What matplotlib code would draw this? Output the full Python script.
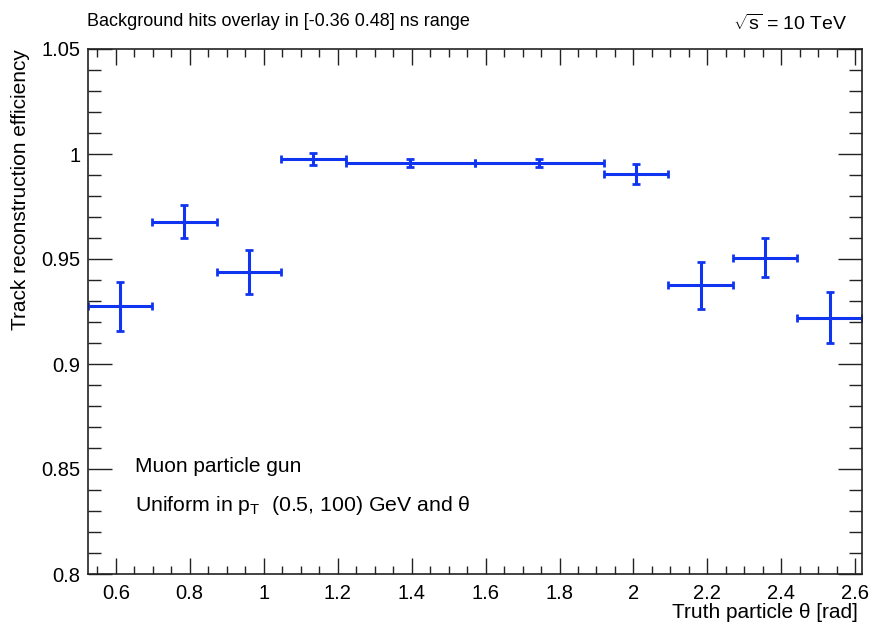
import numpy as np
import matplotlib
matplotlib.use("Agg")
import matplotlib.pyplot as plt
from matplotlib.ticker import MultipleLocator

plt.rcParams['font.family'] = ['Liberation Sans', 'DejaVu Sans']
plt.rcParams['mathtext.fontset'] = 'custom'
plt.rcParams['mathtext.rm'] = 'Liberation Sans'
plt.rcParams['mathtext.it'] = 'Liberation Sans'

# bin edges in degrees -> radians
bin_edges_deg = [30, 40, 50, 60, 70, 90, 110, 120, 130, 140, 150]
efficiency = [0.9274, 0.9678, 0.9440, 0.9977, 0.9958, 0.9958, 0.9906, 0.9374, 0.9507, 0.9221]
eff_err = [0.0115, 0.0080, 0.0105, 0.0030, 0.0020, 0.0020, 0.0047, 0.0110, 0.0095, 0.0120]

edges = np.radians(bin_edges_deg)
centers = 0.5 * (edges[:-1] + edges[1:])
halfw = 0.5 * (edges[1:] - edges[:-1])

W, H = 871, 627
fig = plt.figure(figsize=(W / 100, H / 100), dpi=100)
ax = fig.add_axes([87.5 / W, 1 - 574 / H, (862 - 87.5) / W, (574 - 49) / H])

color = '#1035f0'
ax.errorbar(centers, efficiency, xerr=halfw, yerr=eff_err, fmt='none',
            ecolor=color, elinewidth=2.2, capsize=2.6, capthick=2.0, clip_on=True)

ax.set_xlim(edges[0], edges[-1])
ax.set_ylim(0.8, 1.05)
ax.xaxis.set_major_locator(MultipleLocator(0.2))
ax.xaxis.set_minor_locator(MultipleLocator(0.05))
ax.yaxis.set_major_locator(MultipleLocator(0.05))
ax.yaxis.set_minor_locator(MultipleLocator(0.01))

def fmt(v, pos):
    s = ('%.2f' % v).rstrip('0').rstrip('.')
    return s
ax.xaxis.set_major_formatter(plt.FuncFormatter(fmt))
ax.yaxis.set_major_formatter(plt.FuncFormatter(fmt))

ax.tick_params(axis='both', which='both', direction='in', top=True, right=True,
               labelsize=14.5, width=1.0, color='#222222')
ax.tick_params(axis='x', which='major', length=11.5, pad=7)
ax.tick_params(axis='x', which='minor', length=5.5)
ax.tick_params(axis='y', which='major', length=17, pad=5)
ax.tick_params(axis='y', which='minor', length=9.5)
for sp in ax.spines.values():
    sp.set_linewidth(1.2)
    sp.set_color('#222222')

ax.set_xlabel('Truth particle θ [rad]', fontsize=15, ha='right', va='center')
ax.xaxis.set_label_coords((858 - 87.5) / 774.5, (574 - 612) / 525)
ax.set_ylabel('Track reconstruction efficiency', fontsize=15, loc='top', labelpad=8)

ax.text(0.061, 0.204, 'Muon particle gun', transform=ax.transAxes, fontsize=15,
        va='center', ha='left')
ax.text(0.061, 0.131, r'Uniform in p$_{\mathregular{T}}$  (0.5, 100) GeV and θ',
        transform=ax.transAxes, fontsize=15.3, va='center', ha='left')

fig.text(87 / W, 1 - 22 / H, 'Background hits overlay in [-0.36 0.48] ns range',
         fontsize=13, ha='left', va='center')
fig.text(848 / W, 1 - 24 / H, r'$\sqrt{\mathregular{s}}$ = 10 TeV',
         fontsize=14, ha='right', va='center')

fig.savefig('out.png', dpi=100)
